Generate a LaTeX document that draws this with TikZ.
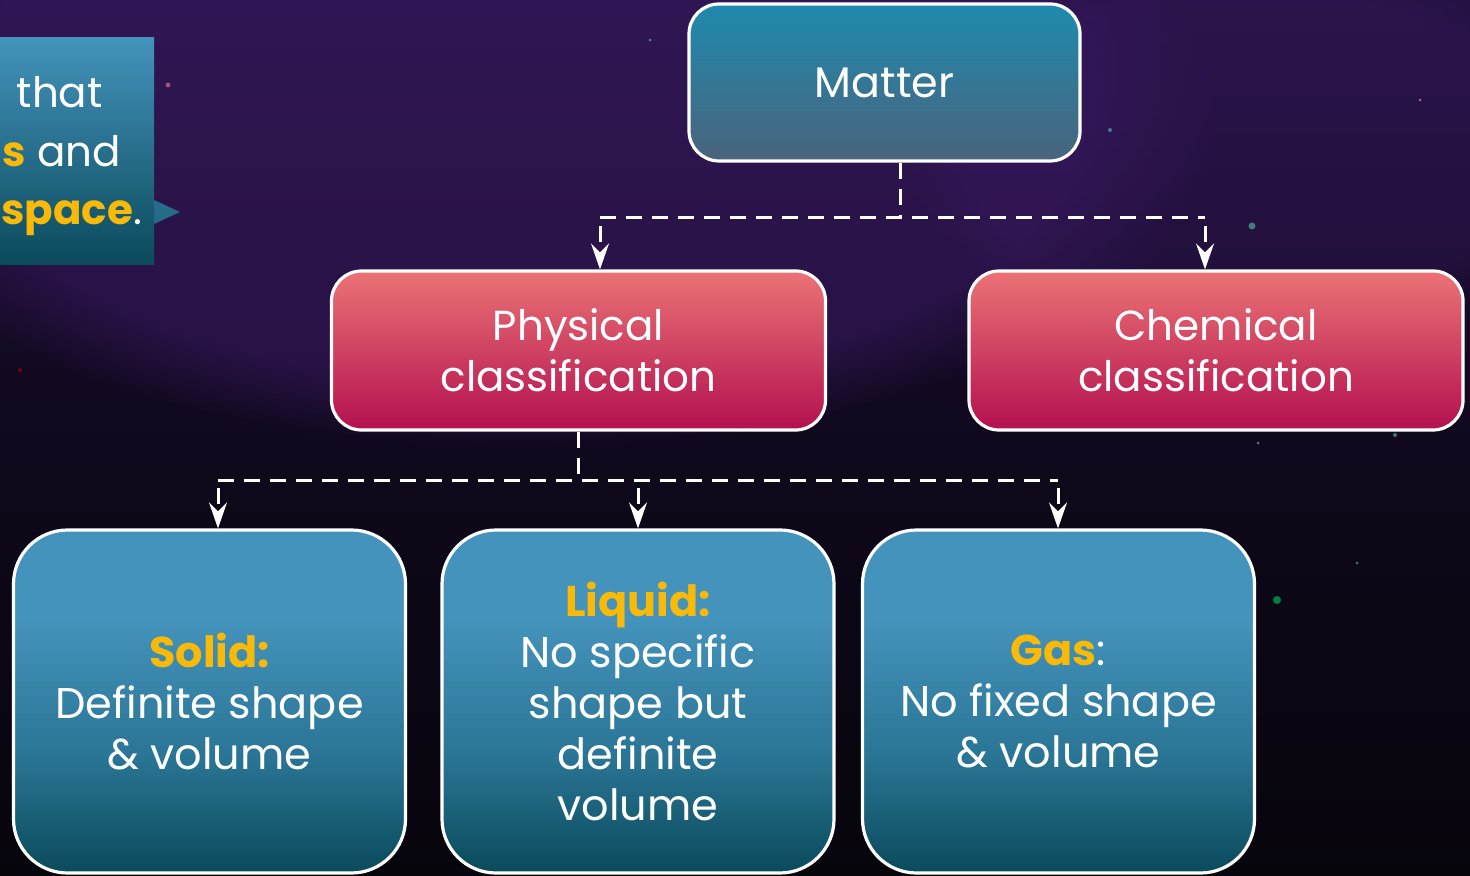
\documentclass[tikz,border=0pt]{standalone}
\usepackage{fontspec}
\setmainfont{Poppins}
\usetikzlibrary{arrows.meta,calc,fadings}
\definecolor{bgtop}{HTML}{241142}
\definecolor{bgmid}{HTML}{170B2A}
\definecolor{bgbot}{HTML}{07050C}
\definecolor{glow}{HTML}{3A1A63}
\definecolor{mattertop}{HTML}{1F8AAF}
\definecolor{matterbot}{HTML}{4A637B}
\definecolor{redtop}{HTML}{EB7375}
\definecolor{redbot}{HTML}{B3104F}
\definecolor{teallight}{HTML}{4493BC}
\definecolor{tealmid}{HTML}{2A7595}
\definecolor{tealdark}{HTML}{0A4A5B}
\definecolor{gold}{HTML}{F9B908}
\pgfdeclareverticalshading{tealshade}{100bp}{color(0bp)=(tealdark); color(25bp)=(tealdark); color(42bp)=(tealmid); color(62bp)=(teallight); color(100bp)=(teallight)}
\pgfdeclareverticalshading{bgshade}{100bp}{color(0bp)=(bgbot); color(25bp)=(bgbot); color(45bp)=(bgbot!60!bgmid); color(62bp)=(bgmid); color(75bp)=(bgtop); color(100bp)=(bgtop)}
\begin{document}
\begin{tikzpicture}[x=0.5pt,y=-0.5pt,
  boxbase/.style={draw=white, line width=1.6pt, text=white, align=center},
  matterbox/.style={boxbase, rounded corners=15pt, minimum width=195.5pt, minimum height=78.5pt,
    top color=mattertop, bottom color=matterbot, font=\fontsize{21.4}{26}\selectfont},
  redbox/.style={boxbase, rounded corners=15pt, minimum width=247pt, minimum height=79.5pt,
    top color=redtop, bottom color=redbot, font=\fontsize{21}{25.5}\selectfont},
  statebox/.style={boxbase, rounded corners=27pt, minimum width=196pt, minimum height=171.5pt,
    shading=tealshade, font=\fontsize{21.5}{25.5}\selectfont},
  callout/.style={minimum width=77pt, minimum height=113.5pt, inner sep=0pt,
    top color=teallight, bottom color=tealdark},
  calltext/.style={text=white, inner sep=0pt, font=\fontsize{21}{28}\selectfont},
  dashline/.style={white, line width=1.5pt, dash pattern=on 8pt off 5pt},
  dasharrow/.style={dashline, -{Stealth[length=13pt,width=9pt,inset=4.5pt]}},
  star/.style={fill=#1, opacity=0.7}
]
\useasboundingbox (0,0) rectangle (1470,876);
\clip (0,0) rectangle (1470,876);
% background
\shade[shading=bgshade] (0,0) rectangle (1470,876);
\fill[glow, opacity=0.55, path fading=circle with fuzzy edge 20 percent] (520,120) ellipse (700 and 330);
\fill[glow, opacity=0.35, path fading=circle with fuzzy edge 20 percent] (1250,150) ellipse (350 and 200);
\fill[star=teal!70!white] (1252,226) circle (3.5);
\fill[star=teal!60!green] (1277,600) circle (4);
\fill[star=teal!70!white] (1395,435) circle (2);
\fill[star=purple!60!white] (168,85) circle (2.5);
\fill[star=red!60!black] (20,370) circle (2);
\fill[star=teal!70!white] (1357,563) circle (1.5);
\fill[star=teal!70!white] (1110,130) circle (2);
\fill[star=purple!50!white] (1420,100) circle (1.5);
\fill[star=teal!60!white] (650,40) circle (1.5);
\fill[star=teal!60!white] (1258,443) circle (1.5);

% callout
\fill[tealmid!80!tealdark] (154,200) -- (180,212) -- (154,224) -- cycle;
\node[callout] (call) at (77,151.5) {};
\node[calltext, anchor=base east] (t1) at (103,108) {that};
\node[calltext, anchor=base west] (t2) at (2,167) {\textcolor{gold}{\bfseries s} and};
\node[calltext, anchor=base west] (t3) at (1,225) {\textcolor{gold}{\bfseries space}.};

% nodes
\node[matterbox] (matter) at (884.5,82.5) {Matter};
\node[redbox] (phys) at (578.5,350.5) {Physical\\classification};
\node[redbox] (chem) at (1216,350.5) {Chemical\\classification};
\node[statebox] (solid) at (209.5,701.5) {\textcolor{gold}{\bfseries Solid:}\\Definite shape\\\& volume};
\node[statebox] (liquid) at (638,701.5) {\textcolor{gold}{\bfseries Liquid:}\\No specific\\shape but\\definite\\volume};
\node[statebox] (gas) at (1058.5,701.5) {\textcolor{gold}{\bfseries Gas}:\\No fixed shape\\\& volume};

% connectors level 1
\coordinate (m1) at ($(matter.south)+(15.5,0)$);
\coordinate (j1) at (900,218);
\coordinate (jl) at (600,218);
\coordinate (jr) at (1205,218);
\draw[dashline] (m1) -- (j1);
\draw[dashline] (jl) -- (jr);
\draw[dasharrow] ($(jl)+(0,8)$) -- (phys.north -| jl);
\draw[dasharrow] ($(jr)+(0,8)$) -- (chem.north -| jr);

% connectors level 2
\coordinate (p1) at (578.5,480);
\coordinate (kl) at (218,480);
\coordinate (km) at (638,480);
\coordinate (kr) at (1058,480);
\draw[dashline] (phys.south) -- (p1);
\draw[dashline] (kl) -- (kr);
\draw[dasharrow] ($(kl)+(0,8)$) -- (solid.north -| kl);
\draw[dasharrow] ($(km)+(0,8)$) -- (liquid.north -| km);
\draw[dasharrow] ($(kr)+(0,8)$) -- (gas.north -| kr);
\end{tikzpicture}
\end{document}
